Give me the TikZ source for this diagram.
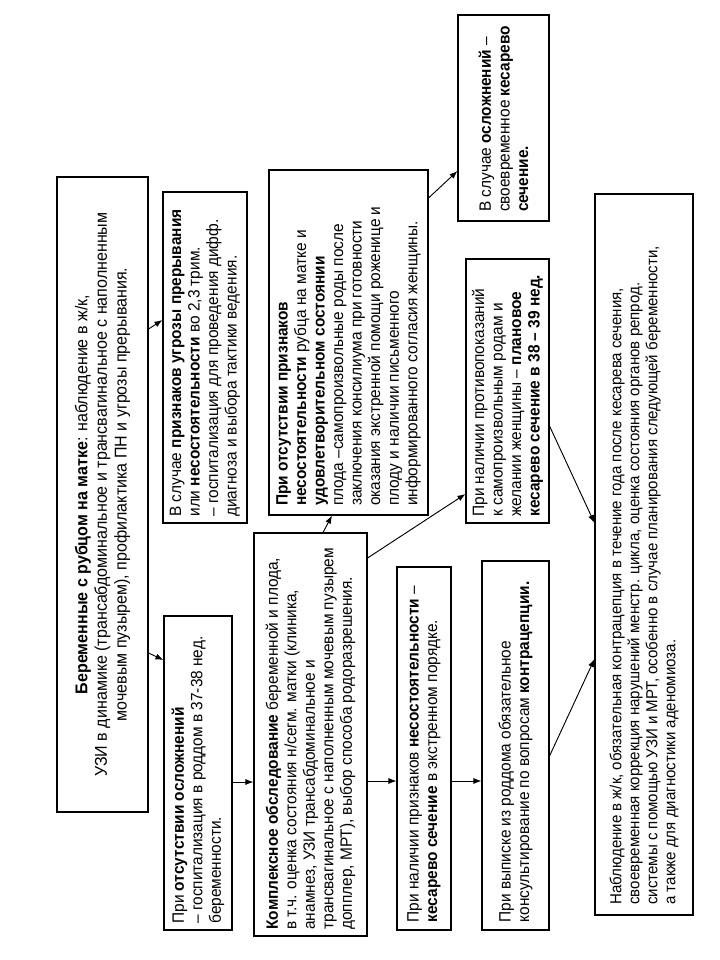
\documentclass[tikz,border=0pt]{standalone}
\usepackage{fontspec}
\setmainfont{Liberation Sans}[FakeStretch=0.94]
\usetikzlibrary{fit,arrows.meta}
\begin{document}
\begin{tikzpicture}[x=0.75pt,y=-0.75pt,
  box/.style={draw, line width=0.8pt, inner sep=0pt},
  txt/.style={rotate=90, align=left, inner sep=0pt, font=\fontsize{12.3}{13.9}\selectfont},
  txtbig/.style={rotate=90, align=center, inner sep=0pt, font=\fontsize{12.8}{14.8}\selectfont},
  txtsmall/.style={rotate=90, align=left, inner sep=0pt, font=\fontsize{12}{13.5}\selectfont},
  arr/.style={-{Latex[length=6pt,width=4.5pt]}, line width=0.7pt}]
\useasboundingbox (0,0) rectangle (720,960);
% boxes
\node[box, fit={(57,177) (148,812)}] (b1) {};
\node[box, fit={(163,192) (247,523)}] (b2) {};
\node[box, fit={(164,616) (232,930)}] (b3) {};
\node[box, fit={(254,533) (367,936)}] (b4) {};
\node[box, fit={(269,170) (428,515)}] (b5) {};
\node[box, fit={(458,15) (549,221)}] (b6) {};
\node[box, fit={(466,259) (549,523)}] (b7) {};
\node[box, fit={(397,567) (451,930)}] (b8) {};
\node[box, fit={(482,561) (549,930)}] (b9) {};
\node[box, fit={(595,194) (693,915)}] (b10) {};
% texts
\node[txtbig] (t1) at (b1.center) {\textbf{Беременные с рубцом на матке}: наблюдение в ж/к,\\
УЗИ в динамике (трансабдоминальное и трансвагинальное с наполненным\\
мочевым пузырем), профилактика ПН и угрозы прерывания.};
\node[txt, anchor=west] (t2) at ([yshift=5pt]b2.south) {В случае \textbf{признаков угрозы прерывания}\\
или \textbf{несостоятельности} во 2,3 трим.\\
– госпитализация для проведения дифф.\\
диагноза и выбора тактики ведения.};
\node[txt, anchor=west] (t3) at ([yshift=5pt]b3.south) {При \textbf{отсутствии осложнений}\\
– госпитализация в роддом в 37-38 нед.\\
беременности.};
\node[txt, anchor=west] (t4) at ([yshift=5pt]b4.south) {\textbf{Комплексное обследование} беременной и плода,\\
в т.ч. оценка состояния н/сегм. матки (клиника,\\
анамнез, УЗИ трансабдоминальное и\\
трансвагинальное с наполненным мочевым пузырем\\
допплер, МРТ), выбор способа родоразрешения.};
\node[txt, anchor=west] (t5) at ([yshift=7pt]b5.south) {\textbf{При отсутствии признаков}\\
\textbf{несостоятельности} рубца на матке и\\
\textbf{удовлетворительном состоянии}\\
плода –самопроизвольные роды после\\
заключения консилиума при готовности\\
оказания экстренной помощи роженице и\\
плоду и наличии письменного\\
информированного согласия женщины.};
\node[txt, anchor=west] (t6) at ([yshift=7pt]b6.south) {В случае \textbf{осложнений} –\\
своевременное \textbf{кесарево}\\
\textbf{сечение.}};
\node[txt, anchor=west] (t7) at ([yshift=5pt]b7.south) {При наличии противопоказаний\\
к самопроизвольным родам и\\
желании женщины – \textbf{плановое}\\
\textbf{кесарево сечение в 38 – 39 нед.}};
\node[txt, anchor=west] (t8) at ([yshift=6pt]b8.south) {При наличии признаков \textbf{несостоятельности} –\\
\textbf{кесарево сечение} в экстренном порядке.};
\node[txt, anchor=west] (t9) at ([yshift=6pt]b9.south) {При выписке из роддома обязательное\\
консультирование по вопросам \textbf{контрацепции.}};
\node[txtsmall, anchor=west] (t10) at ([yshift=8pt]b10.south) {Наблюдение в ж/к, обязательная контрацепция в течение года после кесарева сечения,\\
своевременная коррекция нарушений менстр. цикла, оценка состояния органов репрод.\\
системы с помощью УЗИ и МРТ, особенно в случае планирования следующей беременности,\\
а также для диагностики аденомиоза.};
% connectors
\draw[arr] (b1.east |- 0,329) -- (b2.west |- 0,320);
\draw[arr] (b1.east |- 0,653) -- (b3.west |- 0,660);
\draw[arr] (b3.east |- 0,782) -- (b4.west |- 0,782);
\draw[arr] (b4.north -| 323,0) -- (b5.south -| 332,0);
\draw[arr] (b4.east |- 0,558) -- (b7.west |- 0,494);
\draw[arr] (b4.east |- 0,781) -- (b8.west |- 0,781);
\draw[arr] (b5.east |- 0,198) -- (b6.west |- 0,171);
\draw[arr] (b8.east |- 0,781) -- (b9.west |- 0,781);
\draw[arr] (b7.east |- 0,426) -- (b10.west |- 0,523);
\draw[arr] (b9.east |- 0,756) -- (b10.west |- 0,659);
\end{tikzpicture}
\end{document}
